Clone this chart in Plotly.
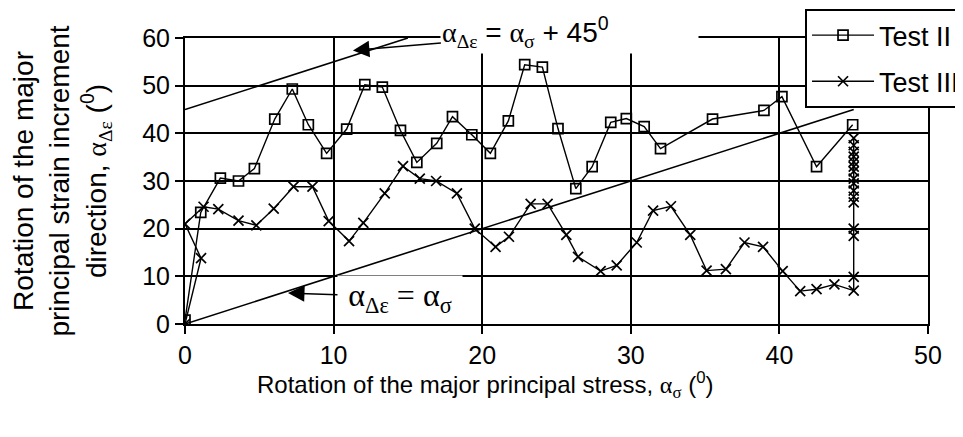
import plotly.graph_objects as go

# ---- data ----
test2_x = [0, 1.06, 2.38, 3.6, 4.67, 6.04, 7.22, 8.3, 9.53, 10.88, 12.1, 13.28, 14.5,
           15.6, 16.94, 18.0, 19.3, 20.55, 21.76, 22.86, 24.05, 25.1, 26.3, 27.4,
           28.65, 29.7, 30.9, 32.0, 35.5, 38.96, 40.17, 42.5, 44.93]
test2_y = [0.8, 23.4, 30.6, 30.0, 32.6, 43.0, 49.3, 41.8, 35.8, 40.9, 50.2, 49.7, 40.6,
           33.9, 37.9, 43.5, 39.7, 35.8, 42.6, 54.4, 53.9, 41.0, 28.4, 33.0,
           42.3, 43.1, 41.4, 36.8, 43.0, 44.8, 47.7, 33.0, 41.8]

test3_x = [0, 1.08, 0, 1.25, 2.24, 3.6, 4.8, 5.97, 7.3, 8.58, 9.67, 11.04, 12.0, 13.44,
           14.67, 15.8, 16.9, 18.3, 19.5, 20.9, 21.8, 23.26, 24.4, 25.66, 26.45, 27.97,
           29.05, 30.4, 31.5, 32.7, 34.0, 35.1, 36.4, 37.65, 38.9, 40.22, 41.4, 42.5,
           43.7, 45, 45, 45, 45, 45, 45, 45, 45, 45, 45, 45, 45, 45, 45, 45, 45]
test3_y = [0, 13.8, 21.0, 24.6, 24.1, 21.7, 20.7, 24.2, 28.8, 28.8, 21.6, 17.4, 21.2, 27.4,
           33.1, 30.5, 30.0, 27.4, 20.0, 16.2, 18.3, 25.2, 25.2, 18.7, 14.1, 11.1,
           12.3, 17.1, 23.8, 24.7, 18.7, 11.2, 11.5, 17.1, 16.2, 11.1, 6.9, 7.3,
           8.3, 7.0, 9.9, 18.5, 20.0, 25.5, 26.7, 28.0, 29.5, 30.5, 32.0, 33.0, 34.0,
           35.1, 36.1, 37.5, 39.0]

# reference lines alpha_de = alpha_s and alpha_de = alpha_s + 45
equal_x = [0, 45]
equal_y = [0, 45]
plus45_x = [0, 15]
plus45_y = [45, 60]

x_ticks = [0, 10, 20, 30, 40, 50]
y_ticks = [0, 10, 20, 30, 40, 50, 60]

SANS = "Arial, Liberation Sans, sans-serif"
SERIF = "Liberation Serif, Times New Roman, serif"

fig = go.Figure()

fig.add_trace(go.Scatter(x=equal_x, y=equal_y, mode="lines",
                         line=dict(color="black", width=1.6), showlegend=False,
                         hoverinfo="skip"))
fig.add_trace(go.Scatter(x=plus45_x, y=plus45_y, mode="lines",
                         line=dict(color="black", width=1.6), showlegend=False,
                         hoverinfo="skip", cliponaxis=False))

fig.add_trace(go.Scatter(x=test2_x, y=test2_y, mode="lines+markers", name="Test II",
                         legendgroup="a",
                         line=dict(color="black", width=1.4),
                         marker=dict(symbol="square-open", size=10, color="black",
                                     line=dict(width=1.7, color="black"))))
fig.add_trace(go.Scatter(x=test3_x, y=test3_y, mode="lines+markers", name="Test III",
                         legendgroup="b",
                         line=dict(color="black", width=1.4),
                         marker=dict(symbol="x-thin-open", size=10, color="black",
                                     line=dict(width=1.7, color="black"))))

def a(s):
    return f'<span style="font-family:{SERIF}">{s}</span>'

fig.add_annotation(x=11.3, y=57.4, xref="x", yref="y",
                   text=a("α") + "<sub>" + a("Δε") + "</sub> = " + a("α") + "<sub>" + a("σ") + "</sub> + 45<sup>0</sup>",
                   showarrow=True, ax=217, ay=-18, arrowhead=2, arrowsize=2.2,
                   arrowwidth=1.5, arrowcolor="black", bgcolor="white",
                   width=255, align="left",
                   font=dict(family=SANS, size=28, color="black"))
fig.add_annotation(x=6.93, y=6.5, xref="x", yref="y",
                   text=a("α") + "<sub>" + a("Δε") + "</sub> " + a("=") + " " + a("α") + "<sub>" + a("σ") + "</sub>",
                   showarrow=True, ax=112, ay=4, arrowhead=2, arrowsize=2.2,
                   arrowwidth=1.5, arrowcolor="black", bgcolor="white",
                   width=122,
                   font=dict(family=SERIF, size=32, color="black"))

# x-axis title (placed like the original, left of centre)
fig.add_annotation(x=0.404, y=-0.213, xref="paper", yref="paper",
                   xanchor="center", yanchor="middle", showarrow=False,
                   text="Rotation of the major principal stress, " + a("α") + "<sub>" + a("σ") + "</sub> (<sup>0</sup>)",
                   font=dict(family=SANS, size=24, color="black"))

fig.update_layout(
    width=963, height=437,
    margin=dict(l=177, r=43, t=30, b=121, autoexpand=False),
    paper_bgcolor="white", plot_bgcolor="white",
    font=dict(family=SANS, size=25, color="black"),
    legend=dict(x=0.8345, y=1.101, xanchor="left", yanchor="top",
                bgcolor="white", bordercolor="black", borderwidth=2,
                font=dict(family=SANS, size=27, color="black"),
                itemwidth=62, tracegroupgap=8),
    showlegend=True,
)
fig.update_xaxes(range=[0, 50], tickvals=x_ticks, ticks="outside", ticklen=8,
                 tickwidth=2, tickcolor="black",
                 showgrid=True, gridcolor="black", gridwidth=2,
                 showline=True, linecolor="black", linewidth=2, mirror=True,
                 zeroline=False,
                 tickfont=dict(family=SANS, size=25))
fig.update_yaxes(range=[0, 60], tickvals=y_ticks, ticks="outside", ticklen=8,
                 tickwidth=2, tickcolor="black",
                 showgrid=True, gridcolor="black", gridwidth=2,
                 showline=True, linecolor="black", linewidth=2, mirror=True,
                 zeroline=False,
                 tickfont=dict(family=SANS, size=25),
                 title=dict(text="Rotation of the major<br>principal strain increment<br>direction, " + a("α") + "<sub>" + a("Δε") + "</sub> (<sup>0</sup>)",
                            font=dict(family=SANS, size=28), standoff=38))

fig.write_html("out.html")
